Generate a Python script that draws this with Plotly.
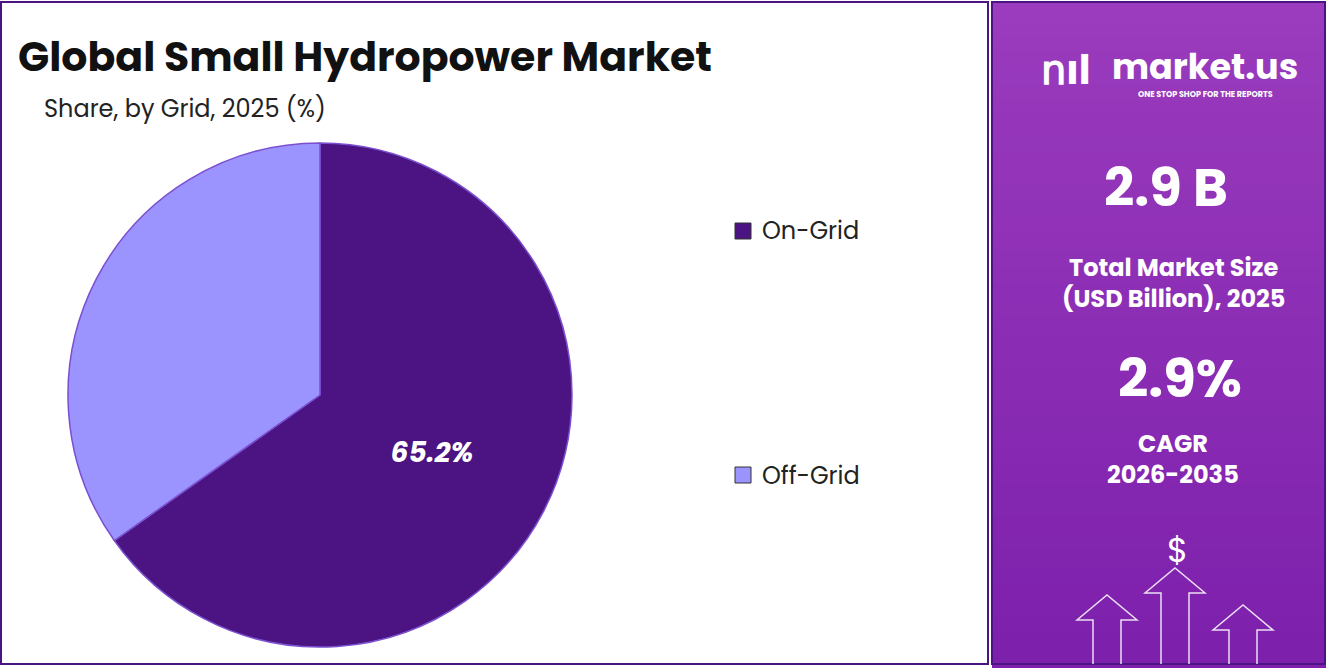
import plotly.graph_objects as go

labels = ["On-Grid", "Off-Grid"]
values = [65.2, 34.8]
colors = ["#4B1482", "#9B94FF"]
market_size = "2.9 B"
cagr = "2.9%"

W, H = 1326, 668
def px(x): return x / W
def py(y): return 1 - y / H

texts = [f"{values[0]}%", ""]
fig = go.Figure(go.Pie(
    labels=labels, values=values, sort=False, direction="clockwise", rotation=0,
    marker=dict(colors=colors, line=dict(color="#7A4FD0", width=1.5)),
    text=texts, textinfo="text", textposition="inside",
    insidetextfont=dict(color="white", size=28, family="Poppins, Inter, sans-serif"),
    texttemplate="<b><i>%{text}</i></b>", hoverinfo="label+percent",
    domain=dict(x=[px(68), px(572)], y=[py(647), py(143)]),
    showlegend=False,
))

shapes = [
    dict(type="rect", xref="paper", yref="paper", x0=px(1), x1=px(988), y0=py(664), y1=py(2),
         line=dict(color="#4B1482", width=2), fillcolor="white", layer="below"),
]
n = 40
top = (155, 60, 190); bot = (125, 32, 172)
for i in range(n):
    t = i / (n - 1)
    c = tuple(int(top[k] + (bot[k] - top[k]) * t) for k in range(3))
    shapes.append(dict(type="rect", xref="paper", yref="paper", x0=px(992), x1=1,
                       y0=py(2 + (i + 1) * 664 / n + 3), y1=py(2 + i * 664 / n),
                       line=dict(width=0), fillcolor=f"rgb{c}", layer="below"))
shapes.append(dict(type="rect", xref="paper", yref="paper", x0=px(992), x1=px(1325), y0=py(664), y1=py(2),
                   line=dict(color="#4B1482", width=2), fillcolor="rgba(0,0,0,0)"))
for yy, c in zip([231, 475], colors):
    shapes.append(dict(type="rect", xref="paper", yref="paper", x0=px(735), x1=px(751),
                       y0=py(yy + 8), y1=py(yy - 8), fillcolor=c, line=dict(color="#333", width=1)))
for cx, ybase, ytop in [(1107, 664, 595), (1175, 664, 568), (1243, 664, 605)]:
    shapes.append(dict(type="path", xref="paper", yref="paper",
        path=f"M {px(cx-14)} {py(ybase)} L {px(cx-14)} {py(ytop+25)} L {px(cx-30)} {py(ytop+25)} L {px(cx)} {py(ytop)} L {px(cx+30)} {py(ytop+25)} L {px(cx+14)} {py(ytop+25)} L {px(cx+14)} {py(ybase)}",
        line=dict(color="rgba(255,255,255,0.85)", width=1.5)))

F = "Poppins, Inter, sans-serif"
def ann(x, y, t, size, color="white", bold=False, xanchor="center"):
    return dict(xref="paper", yref="paper", x=px(x), y=py(y), text=f"<b>{t}</b>" if bold else t,
                showarrow=False, font=dict(size=size, color=color, family=F), xanchor=xanchor, yanchor="middle")

annotations = [
    ann(16, 56, "Global Small Hydropower Market", 41, "#111", True, "left"),
    ann(42, 108, "Share, by Grid, 2025 (%)", 24, "#222", False, "left"),
    ann(760, 231, labels[0], 24, "#222", False, "left"),
    ann(760, 475, labels[1], 24, "#222", False, "left"),
    ann(1066, 70, "ոıl", 40, "white", True, "center"),
    ann(1205, 66, "market.us", 35, "white", True, "center"),
    ann(1205, 94, "ONE STOP SHOP FOR THE REPORTS", 8, "white", True, "center"),
    ann(1166, 187, market_size, 53, "white", True),
    ann(1173, 268, "Total Market Size", 24, "white", True),
    ann(1173, 298, "(USD Billion), 2025", 24, "white", True),
    ann(1180, 378, cagr, 53, "white", True),
    ann(1173, 443, "CAGR", 24, "white", True),
    ann(1173, 474, "2026-2035", 24, "white", True),
    ann(1177, 550, "$", 34, "white", False),
]

fig.update_layout(width=W, height=H, margin=dict(l=0, r=0, t=0, b=0),
                  paper_bgcolor="white", plot_bgcolor="white",
                  shapes=shapes, annotations=annotations)
fig.write_html("out.html", config={"displayModeBar": False},
               post_script="document.body.style.margin='0';document.body.style.overflow='hidden';")
